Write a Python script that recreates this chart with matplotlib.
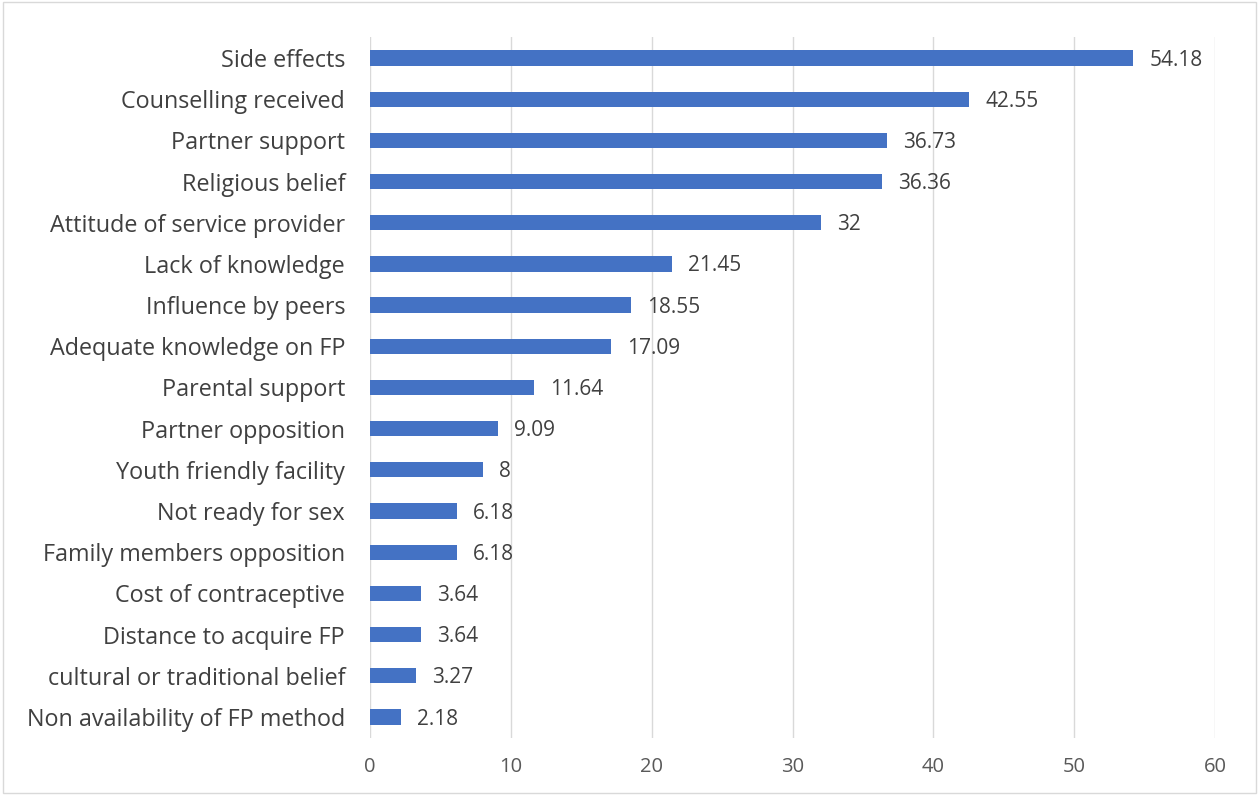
import matplotlib
matplotlib.use("Agg")
from matplotlib import pyplot as plt
from matplotlib.patches import Rectangle

plt.rcParams['font.family'] = ['Open Sans', 'DejaVu Sans']

factors = ["Side effects", "Counselling received", "Partner support", "Religious belief",
           "Attitude of service provider", "Lack of knowledge", "Influence by peers",
           "Adequate knowledge on FP", "Parental support", "Partner opposition",
           "Youth friendly facility", "Not ready for sex", "Family members opposition",
           "Cost of contraceptive", "Distance to acquire FP", "cultural or traditional belief",
           "Non availability of FP method"]
percentages = [54.18, 42.55, 36.73, 36.36, 32, 21.45, 18.55, 17.09, 11.64, 9.09,
               8, 6.18, 6.18, 3.64, 3.64, 3.27, 2.18]
value_labels = ["54.18", "42.55", "36.73", "36.36", "32", "21.45", "18.55", "17.09", "11.64",
                "9.09", "8", "6.18", "6.18", "3.64", "3.64", "3.27", "2.18"]
x_ticks = [0, 10, 20, 30, 40, 50, 60]

fig = plt.figure(figsize=(12.59, 7.95), dpi=100)
fig.patches.append(Rectangle((0.002, 0.002), 0.996, 0.996, transform=fig.transFigure,
                             fill=False, edgecolor='#d9d9d9', linewidth=1))
ax = fig.add_axes([0.2939, 0.0722, 0.6712, 0.8808])

positions = list(range(len(factors)))
ax.barh(positions, percentages, height=0.37, color='#4472C4', zorder=3)
for pos, val, lab in zip(positions, percentages, value_labels):
    ax.text(val + 1.15, pos + 0.05, lab, va='center', ha='left', fontsize=15, color='#404040')

ax.set_ylim(len(factors) - 0.5, -0.5)
ax.set_xlim(0, 60)
ax.set_xticks(x_ticks)
ax.set_yticks(positions)
ax.set_yticklabels(factors, fontsize=16.8, color='#404040')
ax.tick_params(axis='x', labelsize=14.5, labelcolor='#595959', length=0, pad=14)
ax.tick_params(axis='y', length=0, pad=18)
ax.grid(axis='x', color='#d9d9d9', linewidth=1, zorder=0)
for s in ax.spines.values():
    s.set_visible(False)

fig.savefig("out.png", dpi=100)
